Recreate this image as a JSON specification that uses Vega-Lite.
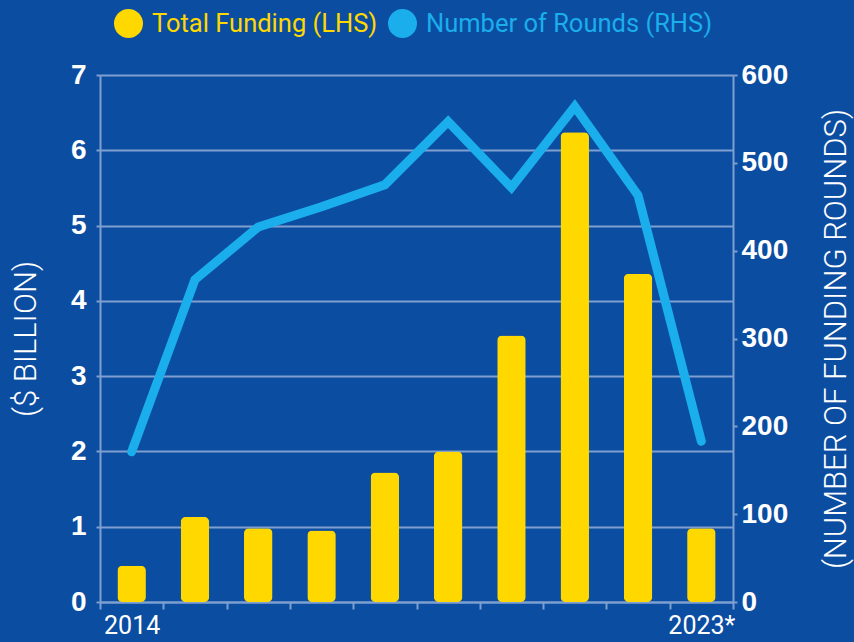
{
  "$schema": "https://vega.github.io/schema/vega-lite/v6.json",
  "width": 633,
  "height": 527,
  "autosize": {"type": "none"},
  "padding": {"left": 100, "top": 75, "right": 121, "bottom": 40},
  "background": "#0b4da1",
  "config": {
    "view": {"stroke": null},
    "font": "Roboto"
  },
  "data": {
    "values": [
      {"year": "2014", "funding": 0.48, "rounds": 171},
      {"year": "2015", "funding": 1.13, "rounds": 367},
      {"year": "2016", "funding": 0.98, "rounds": 427},
      {"year": "2017", "funding": 0.95, "rounds": 450},
      {"year": "2018", "funding": 1.72, "rounds": 475},
      {"year": "2019", "funding": 2.0, "rounds": 547},
      {"year": "2020", "funding": 3.54, "rounds": 472},
      {"year": "2021", "funding": 6.24, "rounds": 564},
      {"year": "2022", "funding": 4.36, "rounds": 463},
      {"year": "2023", "funding": 0.98, "rounds": 183}
    ]
  },
  "encoding": {
    "x": {
      "field": "year",
      "type": "ordinal",
      "scale": {"paddingInner": 0, "paddingOuter": 0},
      "axis": {
        "title": null,
        "labelAngle": 0,
        "labelExpr": "datum.value == '2014' ? '2014' : datum.value == '2023' ? '2023*' : ''",
        "labelColor": "white",
        "labelFont": "Roboto",
        "labelFontSize": 25,
        "labelPadding": 4,
        "tickBand": "extent",
        "tickColor": "#7f9fd0",
        "tickWidth": 2,
        "tickSize": 7,
        "domainColor": "#7f9fd0",
        "domainWidth": 2
      }
    }
  },
  "layer": [
    {
      "mark": {"type": "bar", "cornerRadius": 5, "width": {"band": 0.45}},
      "encoding": {
        "y": {
          "field": "funding",
          "type": "quantitative",
          "scale": {"domain": [0, 7]},
          "axis": {
            "title": "($ BILLION)",
            "titleColor": "white",
            "titleFont": "Roboto",
            "titleFontWeight": 300,
            "titleFontSize": 31,
            "titlePadding": 28,
            "values": [0, 1, 2, 3, 4, 5, 6, 7],
            "labelOverlap": false,
            "labelColor": "white",
            "labelFont": "Liberation Sans",
            "labelFontWeight": "bold",
            "labelFontSize": 28,
            "labelPadding": 10,
            "tickColor": "#7f9fd0",
            "tickSize": 4,
            "tickWidth": 2,
            "domainColor": "#7f9fd0",
            "domainWidth": 2,
            "grid": true,
            "gridColor": "#7f9fd0",
            "gridWidth": 2
          }
        },
        "color": {
          "datum": "Total Funding (LHS)",
          "scale": {
            "domain": ["Total Funding (LHS)", "Number of Rounds (RHS)"],
            "range": ["#ffd800", "#1aaeec"]
          },
          "legend": {
            "title": null,
            "orient": "none",
            "legendX": 14,
            "legendY": -66,
            "direction": "horizontal",
            "symbolType": "circle",
            "symbolSize": 841,
            "symbolOpacity": 1,
            "symbolStrokeWidth": 0,
            "labelFont": "Roboto",
            "labelFontSize": 25.5,
            "labelLimit": 400,
            "labelOffset": 9,
            "columnPadding": 10,
            "encode": {
              "labels": {
                "update": {
                  "fill": {"signal": "datum.value === 'Total Funding (LHS)' ? '#ffd800' : '#1aaeec'"}
                }
              }
            }
          }
        }
      }
    },
    {
      "mark": {"type": "line", "color": "#1aaeec", "strokeWidth": 9, "strokeCap": "round", "strokeJoin": "miter"},
      "encoding": {
        "y": {
          "field": "rounds",
          "type": "quantitative",
          "scale": {"domain": [0, 600]},
          "axis": {
            "orient": "right",
            "title": "(NUMBER OF FUNDING ROUNDS)",
            "titleAngle": 270,
            "titleColor": "white",
            "titleFont": "Roboto",
            "titleFontWeight": 300,
            "titleFontSize": 31,
            "titlePadding": 65,
            "values": [0, 100, 200, 300, 400, 500, 600],
            "labelOverlap": false,
            "labelColor": "white",
            "labelFont": "Liberation Sans",
            "labelFontWeight": "bold",
            "labelFontSize": 28,
            "labelPadding": 4,
            "tickColor": "#7f9fd0",
            "tickSize": 4,
            "tickWidth": 2,
            "domainColor": "#7f9fd0",
            "domainWidth": 2,
            "grid": false
          }
        }
      }
    }
  ],
  "resolve": {"scale": {"y": "independent"}}
}
